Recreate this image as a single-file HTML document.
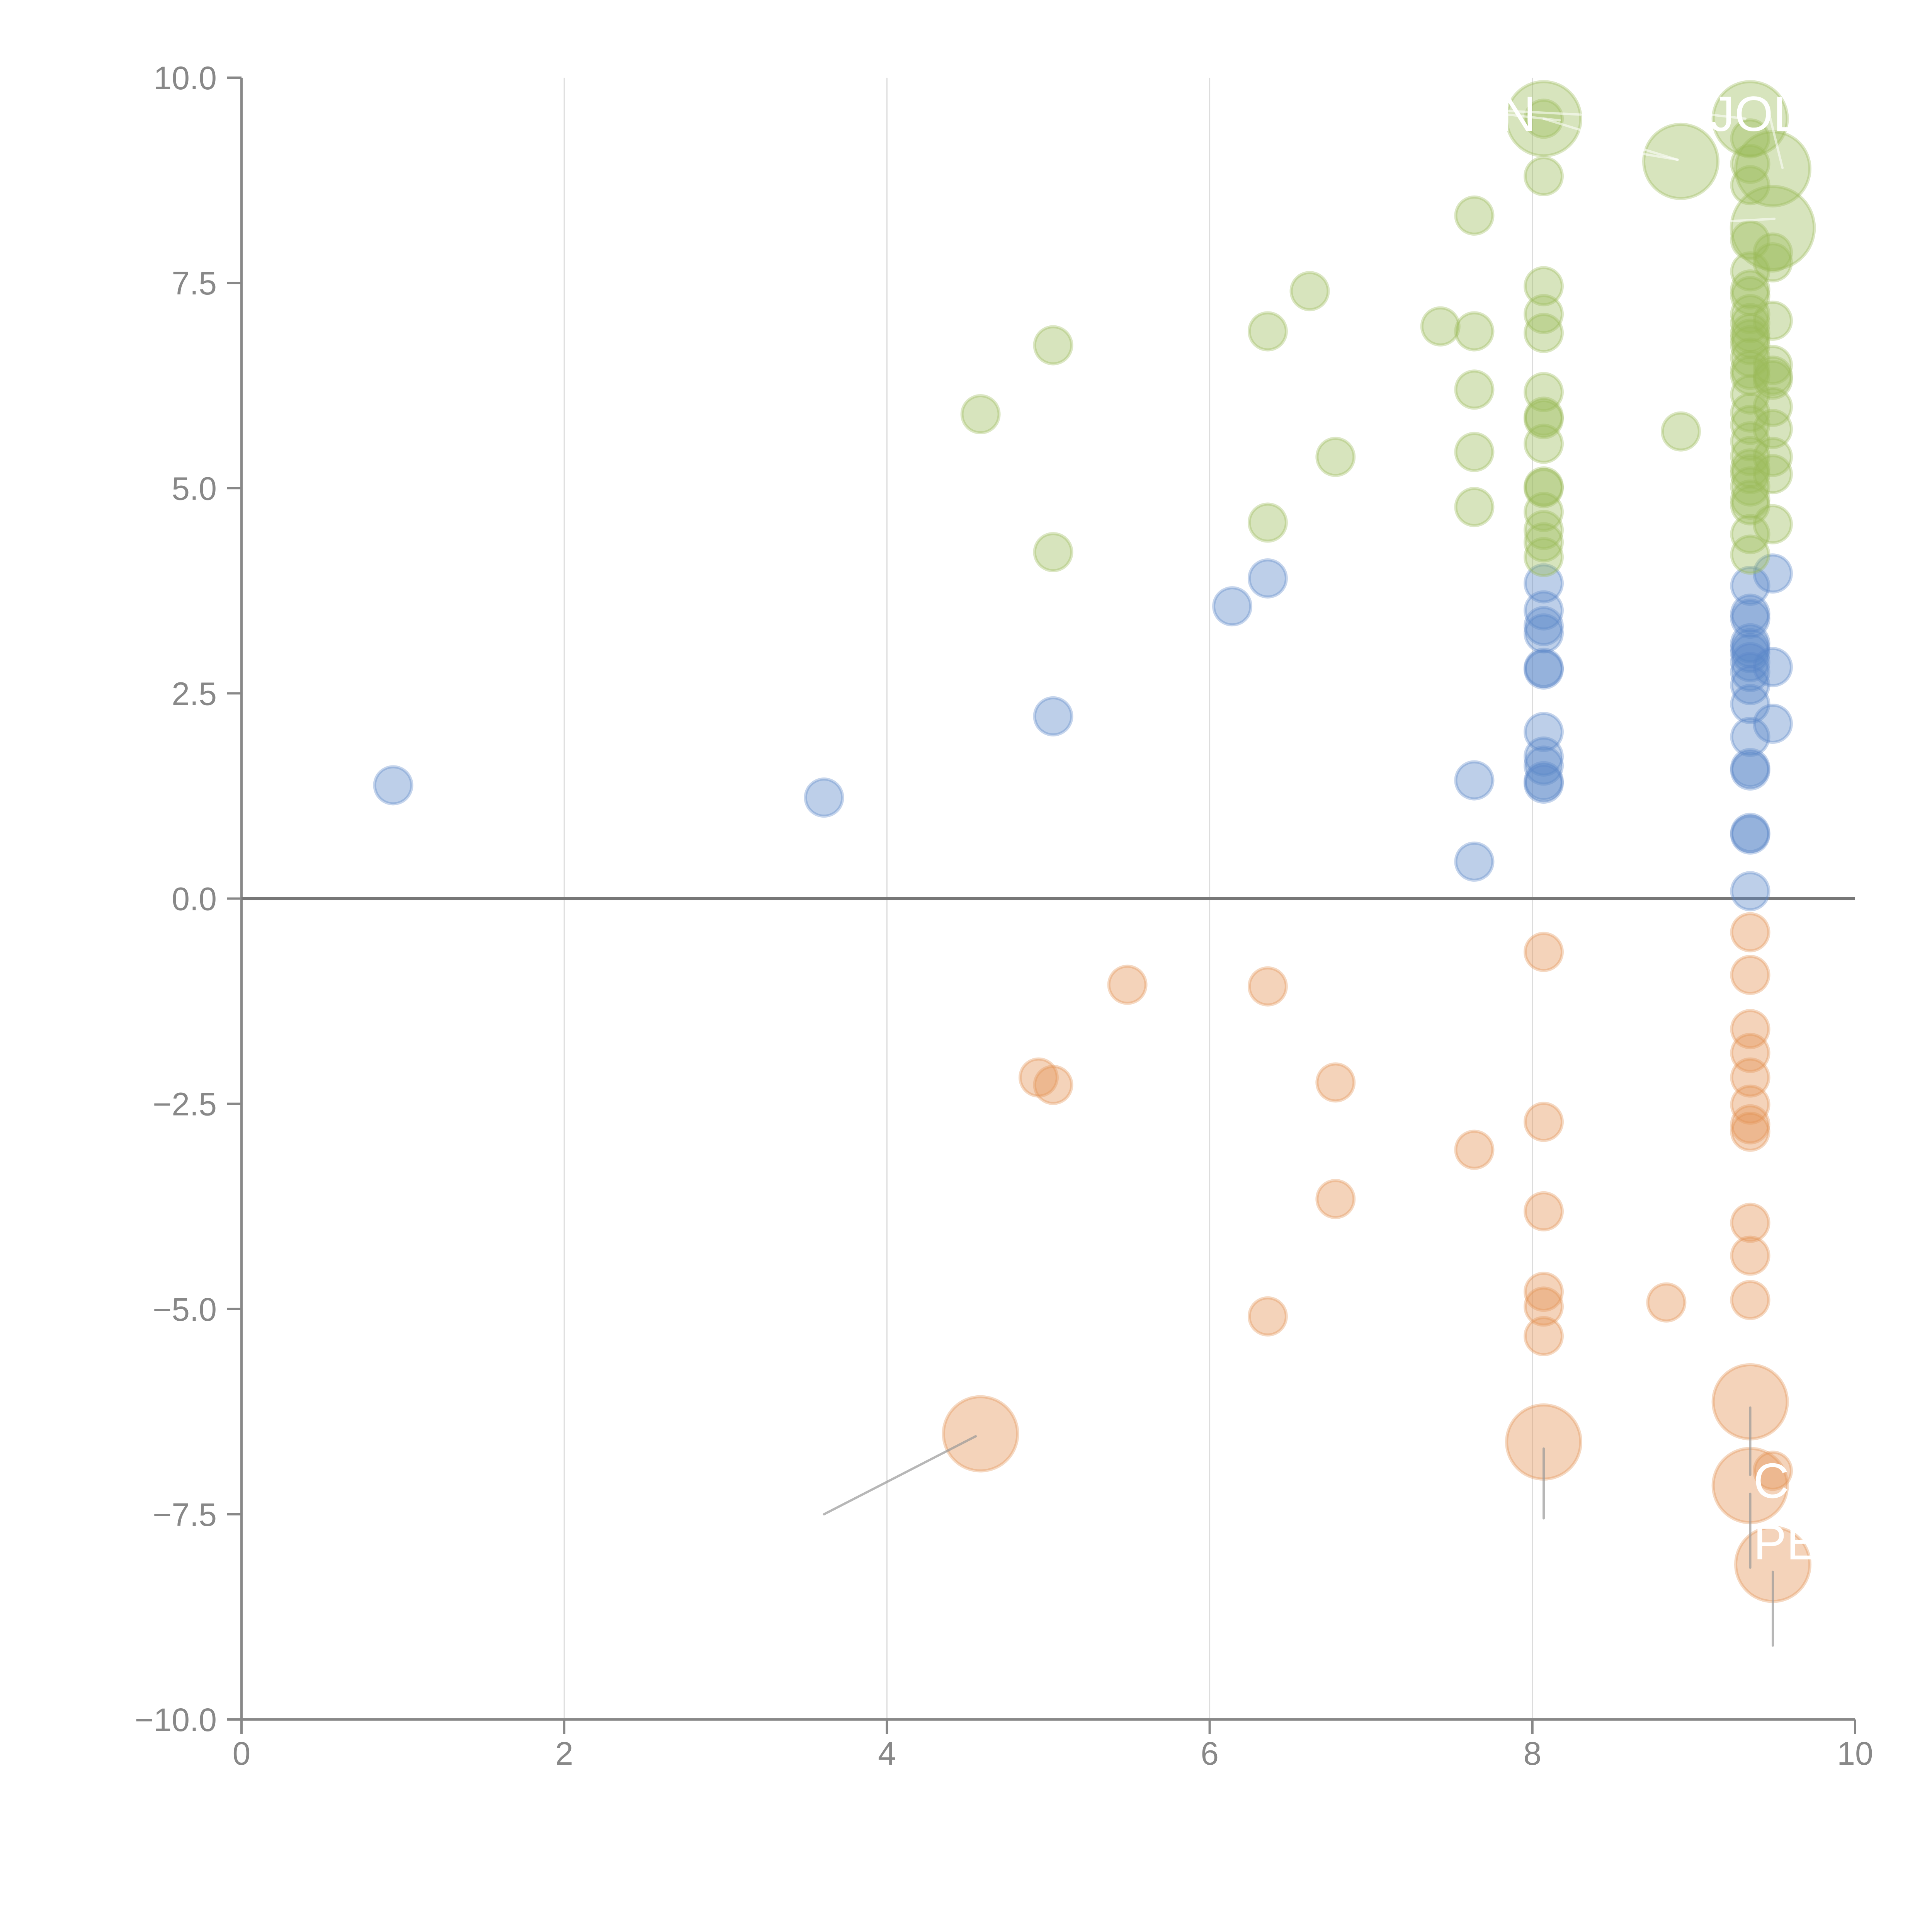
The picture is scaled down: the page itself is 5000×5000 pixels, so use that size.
<!DOCTYPE html>
<html><head><meta charset="utf-8"><style>
html,body{margin:0;padding:0;background:#fff;}
svg{display:block;}
text{font-family:"Liberation Sans",Arial,sans-serif;}
</style></head><body>
<svg id="chart" width="5000" height="5000" viewBox="0 0 5000 5000" xmlns="http://www.w3.org/2000/svg">
<g id="grid"></g>
<g id="axes"></g>
<g id="marks"></g>
<g id="labels"></g>
</svg>
<script>
const xTicks=[0,2,4,6,8,10];
const yTicks=[-10,-7.5,-5,-2.5,0,2.5,5,7.5,10];
const yTickLabels=["\u221210.0","\u22127.5","\u22125.0","\u22122.5","0.0","2.5","5.0","7.5","10.0"];
const blueX=[0.94,3.61,5.03,6.14,6.36,7.64,7.64,8.07,8.07,8.07,8.07,8.07,8.07,8.07,8.07,8.07,8.07,8.07,9.35,9.35,9.35,9.35,9.35,9.35,9.35,9.35,9.35,9.35,9.35,9.35,9.35,9.35,9.35,9.35,9.49,9.49,9.49];
const blueY=[1.38,1.23,2.22,3.56,3.90,1.44,0.45,3.84,3.51,3.32,3.23,2.81,2.79,2.03,1.73,1.62,1.43,1.40,3.81,3.47,3.41,3.11,3.05,2.99,2.88,2.76,2.60,2.37,1.97,1.59,1.56,0.80,0.78,0.09,3.96,2.82,2.13];
const greenX=[4.58,5.03,5.03,6.36,6.36,6.62,6.78,7.43,7.64,7.64,7.64,7.64,7.64,8.92,
8.07,8.07,8.07,8.07,8.07,8.07,8.07,8.07,8.07,8.07,8.07,8.07,8.07,8.07,
9.35,9.35,9.35,9.35,9.35,9.35,9.35,9.35,9.35,9.35,9.35,9.35,9.35,9.35,9.35,9.35,9.35,9.35,9.35,9.35,9.35,9.35,9.35,9.35,9.35,9.35,9.35,
9.49,9.49,9.49,9.49,9.49,9.49,9.49,9.49,9.49,9.49,9.49,
8.07,8.07,8.92,9.35,9.49,9.49];
const greenY=[5.90,6.74,4.22,6.91,4.58,7.40,5.38,6.97,8.32,6.91,6.20,5.44,4.77,5.69,
8.80,7.46,7.12,6.89,6.17,5.87,5.84,5.54,5.02,5.00,4.71,4.49,4.34,4.16,
9.26,8.95,8.69,8.02,7.64,7.42,7.34,7.12,7.01,6.89,6.82,6.74,6.59,6.44,6.37,6.14,5.92,5.77,5.57,5.39,5.24,5.17,5.02,4.86,4.79,4.44,4.19,
7.87,7.75,7.04,6.50,6.37,6.32,5.99,5.72,5.38,5.17,4.56,
9.50,9.50,8.98,9.50,8.89,8.17];
const greenS=[1,1,1,1,1,1,1,1,1,1,1,1,1,1,
1,1,1,1,1,1,1,1,1,1,1,1,1,1,
1,1,1,1,1,1,1,1,1,1,1,1,1,1,1,1,1,1,1,1,1,1,1,1,1,1,1,
1,1,1,1,1,1,1,1,1,1,1,
4,1,4,4,4,5];
const orangeX=[5.49,6.36,4.94,5.03,6.78,6.78,7.64,6.36,8.83,4.58,
8.07,8.07,8.07,8.07,8.07,8.07,8.07,
9.35,9.35,9.35,9.35,9.35,9.35,9.35,9.35,9.35,9.35,9.35,9.35,9.35,
9.49,9.49];
const orangeY=[-1.05,-1.07,-2.18,-2.27,-2.24,-3.66,-3.06,-5.09,-4.92,-6.52,
-0.65,-2.72,-3.81,-4.79,-4.97,-5.33,-6.62,
-0.41,-0.93,-1.59,-1.88,-2.18,-2.51,-2.75,-2.84,-3.95,-4.35,-4.89,-6.13,-7.15,
-6.97,-8.11];
const orangeS=[1,1,1,1,1,1,1,1,1,4,
1,1,1,1,1,1,4,
1,1,1,1,1,1,1,1,1,1,1,4,4,
1,4];

const X0=625,X1=4801,Y0=4450,Y1=201;
const sx=v=>X0+(v-0)/(10-0)*(X1-X0);
const sy=v=>Y0-(v+10)/20*(Y0-Y1);
const NS="http://www.w3.org/2000/svg";
function mk(tag,attrs,parent){const e=document.createElementNS(NS,tag);for(const k in attrs)e.setAttribute(k,attrs[k]);parent.appendChild(e);return e;}
const grid=document.getElementById('grid'),axes=document.getElementById('axes'),marks=document.getElementById('marks'),labels=document.getElementById('labels');

xTicks.forEach(t=>{
  if(t>0&&t<10){const g=mk('line',{x1:sx(t),x2:sx(t),y1:Y1,y2:Y0,stroke:'#dcdcdc','stroke-width':3},grid);
  
  }
  const tk=mk('line',{x1:sx(t),x2:sx(t),y1:Y0,y2:Y0+38,stroke:'#888','stroke-width':6},axes);
  
  
  const tx=mk('text',{x:sx(t),y:Y0+117,'font-size':84,fill:'#888','text-anchor':'middle'},axes);
  tx.textContent=String(t);
  
  
});
yTicks.forEach((t,i)=>{
  const tk=mk('line',{x1:X0-38,x2:X0,y1:sy(t),y2:sy(t),stroke:'#888','stroke-width':6},axes);
  
  
  const tx=mk('text',{x:X0-64,y:sy(t)+30,'font-size':84,fill:'#888','text-anchor':'end'},axes);
  tx.textContent=yTickLabels[i];
  
  
});
let a=mk('line',{x1:X0,x2:X0,y1:Y1,y2:Y0,stroke:'#888','stroke-width':6},axes);


a=mk('line',{x1:X0,x2:X1,y1:Y0,y2:Y0,stroke:'#888','stroke-width':6},axes);


a=mk('line',{x1:X0,x2:X1,y1:sy(0),y2:sy(0),stroke:'#777','stroke-width':8},axes);



function series(xs,ys,ss,color,name){
  xs.forEach((x,i)=>{
    const s=ss?ss[i]:1;
    const c=mk('circle',{cx:sx(x),cy:sy(ys[i]),r:48*Math.sqrt(s),fill:color,'fill-opacity':0.4,stroke:color,'stroke-opacity':0.35,'stroke-width':8},marks);
    
    
  });
}
series(blueX,blueY,null,'#5b87c8','bubble-blue');
series(greenX,greenY,greenS,'#9bbb59','bubble-green');
series(orangeX,orangeY,orangeS,'#e39252','bubble-orange');

[[3.61,-7.5,4.55,-6.55],[8.07,-7.55,8.07,-6.7],[9.35,-7.02,9.35,-6.2],[9.35,-8.15,9.35,-7.25],[9.49,-9.1,9.49,-8.2]].forEach(l=>{
  const e=mk('line',{x1:sx(l[0]),y1:sy(l[1]),x2:sx(l[2]),y2:sy(l[3]),stroke:'#999','stroke-opacity':0.7,'stroke-width':6,'stroke-linecap':'round'},labels);
  
  
});
[[7.8,9.6,8.3,9.55],[7.85,9.55,8.17,9.48],[8.07,9.5,8.9,9.0],[8.6,9.1,8.9,9.0],[9.1,9.55,9.32,9.5],[9.45,9.7,9.55,8.9],[9.2,8.25,9.5,8.28]].forEach(l=>{
  const e=mk('line',{x1:sx(l[0]),y1:sy(l[1]),x2:sx(l[2]),y2:sy(l[3]),stroke:'#fff','stroke-opacity':0.55,'stroke-width':6,'stroke-linecap':'round'},labels);
  
  
});
[["N",7.8,9.35],["JOL",9.1,9.35],["C",9.37,-7.3],["PE",9.37,-8.05]].forEach(t=>{
  const e=mk('text',{x:sx(t[1]),y:sy(t[2]),'font-size':128,fill:'#fff'},labels);
  e.textContent=t[0];
  
  
});
</script>
</body></html>
